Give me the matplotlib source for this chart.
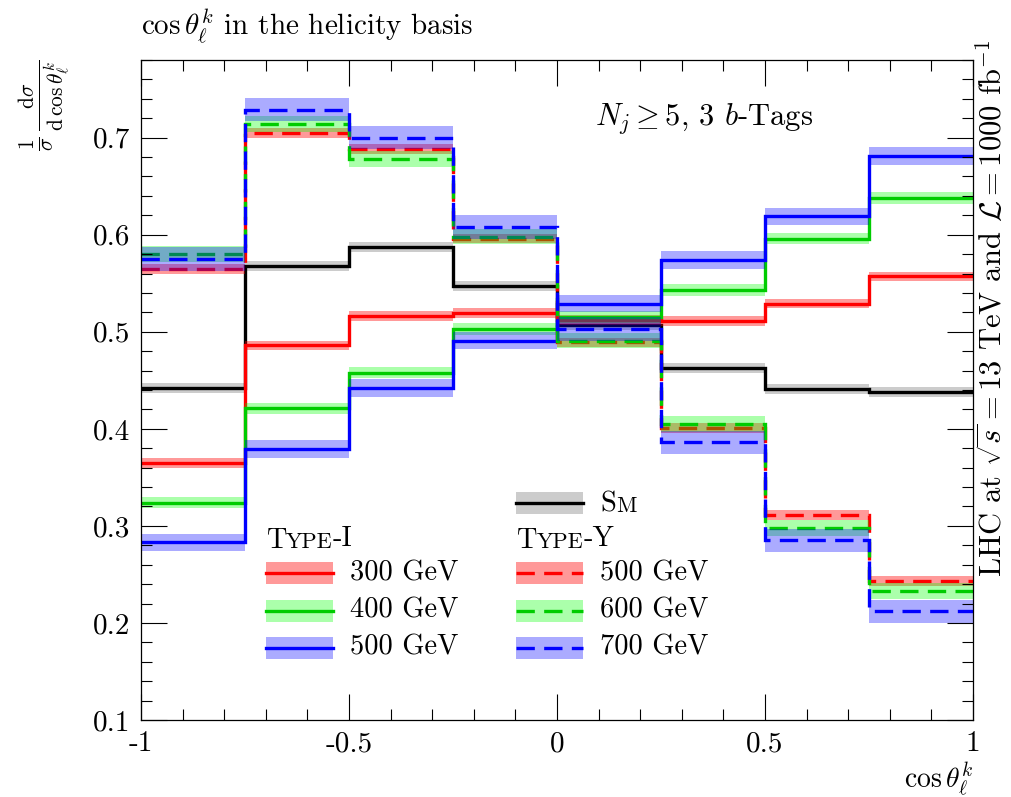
import numpy as np
import matplotlib.pyplot as plt
from matplotlib.patches import Rectangle
from matplotlib.lines import Line2D

plt.rcParams['font.family'] = 'serif'
plt.rcParams['font.serif'] = ['cmr10']
plt.rcParams['mathtext.fontset'] = 'cm'
plt.rcParams['axes.unicode_minus'] = False
plt.rcParams['axes.formatter.use_mathtext'] = True

# bin edges of cos(theta_l^k)
edges = np.linspace(-1, 1, 9)

# normalised distributions
sm     = [0.442, 0.568, 0.587, 0.547, 0.507, 0.463, 0.441, 0.438]
t1_300 = [0.365, 0.486, 0.516, 0.519, 0.512, 0.511, 0.529, 0.557]
t1_400 = [0.324, 0.421, 0.458, 0.503, 0.515, 0.543, 0.596, 0.638]
t1_500 = [0.283, 0.379, 0.442, 0.491, 0.529, 0.574, 0.619, 0.681]
ty_500 = [0.565, 0.705, 0.688, 0.596, 0.489, 0.401, 0.311, 0.243]
ty_600 = [0.580, 0.714, 0.678, 0.598, 0.491, 0.405, 0.298, 0.233]
ty_700 = [0.575, 0.729, 0.700, 0.608, 0.503, 0.386, 0.285, 0.212]

# half widths of the uncertainty bands
err_sm = 0.005
err_t1 = [0.005, 0.006, 0.009]
err_ty = [0.005, 0.008, 0.012]

colors = ['#ff0000', '#00cc00', '#0000ff']
band_colors = [('#ff0000', 0.40), ('#00ff00', 0.33), ('#0000ff', 0.33)]
dash = (0, (5.5, 2.8))
lw = 2.4

fig = plt.figure(figsize=(10.12, 7.97), dpi=100)
ax = fig.add_axes([0.1393, 0.0966, 0.8222, 0.8281])


def draw(vals, err, color, bcolor, balpha, ls):
    vals = np.asarray(vals)
    lo = np.append(vals - err, vals[-1] - err)
    hi = np.append(vals + err, vals[-1] + err)
    ax.fill_between(edges, lo, hi, step='post', color=bcolor, alpha=balpha, lw=0)
    ax.stairs(vals, edges, baseline=None, color=color, lw=lw, ls=ls)


draw(sm, err_sm, 'black', 'black', 0.2, '-')
for v, e, c, (bc, ba) in zip([t1_300, t1_400, t1_500], err_t1, colors, band_colors):
    draw(v, e, c, bc, ba, '-')
for v, e, c, (bc, ba) in zip([ty_500, ty_600, ty_700], err_ty, colors, band_colors):
    draw(v, e, c, bc, ba, dash)

ax.set_xlim(-1, 1)
ax.set_ylim(0.1, 0.78)
ax.set_xticks([-1, -0.5, 0, 0.5, 1])
ax.set_xticklabels(['-1', '-0.5', '0', '0.5', '1'])
ax.set_xticks(np.arange(-1, 1.01, 0.1), minor=True)
ax.set_yticks(np.arange(0.1, 0.75, 0.1))
ax.set_yticklabels(['0.1', '0.2', '0.3', '0.4', '0.5', '0.6', '0.7'])
ax.set_yticks(np.arange(0.1, 0.781, 0.02), minor=True)
ax.tick_params(which='both', direction='in', top=True, right=True, labelsize=21, width=0.8)
ax.tick_params(which='major', length=19, pad=8)
ax.tick_params(which='minor', length=8)
for s in ax.spines.values():
    s.set_linewidth(0.9)

ax.set_xlabel(r'$\cos\theta_\ell^k$', loc='right', fontsize=20, labelpad=2)

fig.text(0.1393, 0.9548, r'$\cos\theta_\ell^k$ in the helicity basis', fontsize=21, va='baseline')
fig.text(0.045, 1 - 60 / 797,
         r'$\frac{1}{\sigma}\,\frac{\mathrm{d}\sigma}{\mathrm{d}\,\cos\theta_\ell^k}$',
         fontsize=22, rotation=90, va='top', ha='center')
fig.text(0.98, 1 - 40 / 797,
         r'LHC at $\sqrt{s}=13$ TeV and $\mathcal{L}=1000$ fb$^{-1}$',
         fontsize=22, rotation=90, va='top', ha='center')
ax.text(0.546, 0.9015, r'$N_j\geq 5$, 3 $b$-Tags', transform=ax.transAxes,
        fontsize=22, va='baseline')


def small_caps(x, y, parts, size):
    # parts: list of (text, is_small)
    t = ax.text(x, y, parts[0][0], transform=ax.transAxes, fontsize=size, va='baseline')
    for txt, small in parts[1:]:
        fs = size * 0.78 if small else size
        off = 0.05 * size if small else 0
        t = ax.annotate(txt, xy=(1, 0), xycoords=t, xytext=(0, off),
                        textcoords='offset points', fontsize=fs, va='bottom')


def legend_entry(x, y, color, bcolor, balpha, ls, label):
    w, h = 0.0805, 0.0333
    ax.add_patch(Rectangle((x, y - h / 2), w, h, transform=ax.transAxes,
                           color=bcolor, alpha=balpha, lw=0))
    ax.add_line(Line2D([x, x + w], [y, y], transform=ax.transAxes,
                       color=color, lw=lw, ls=ls))
    if label:
        ax.text(x + 0.101, y, label, transform=ax.transAxes, fontsize=20.5,
                va='center')


lx1, lx2 = 0.150, 0.4507
rows = [0.2223, 0.1656, 0.1095]
legend_entry(lx2, 0.3283, 'black', 'black', 0.2, '-', None)
small_caps(lx2 + 0.101, 0.3283 - 0.013, [('S', False), ('M', True)], 20.5)
small_caps(lx1, 0.2610, [('T', False), ('YPE', True), ('-I', False)], 20.5)
small_caps(lx2, 0.2610, [('T', False), ('YPE', True), ('-Y', False)], 20.5)
for y, c, (bc, ba), lab in zip(rows, colors, band_colors, ['300 GeV', '400 GeV', '500 GeV']):
    legend_entry(lx1, y, c, bc, ba, '-', lab)
for y, c, (bc, ba), lab in zip(rows, colors, band_colors, ['500 GeV', '600 GeV', '700 GeV']):
    legend_entry(lx2, y, c, bc, ba, dash, lab)

fig.savefig('out.png', dpi=100)
